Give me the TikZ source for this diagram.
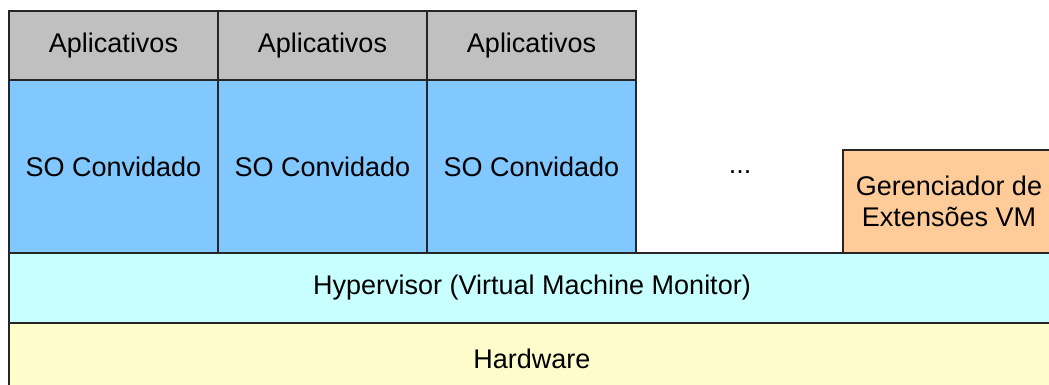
\documentclass[tikz,border=0pt]{standalone}
\usepackage{fontspec}
\setmainfont{Liberation Sans}
\usetikzlibrary{positioning}
\definecolor{appgray}{RGB}{192,192,192}
\definecolor{guestblue}{RGB}{128,200,255}
\definecolor{hypercyan}{RGB}{200,255,255}
\definecolor{hwyellow}{RGB}{255,252,204}
\definecolor{extorange}{RGB}{255,204,153}
\tikzset{
		layer nodes/.style={
			rectangle,
			draw=black!85,
			line width=1.5pt,
			align=center,
			inner sep=0pt,
			outer sep=0pt,
			font=\fontsize{27}{31}\selectfont
		},
		app/.style={layer nodes, fill=appgray, minimum width=209pt, minimum height=69pt},
		guest/.style={layer nodes, fill=guestblue, minimum width=209pt, minimum height=173pt},
		extmgr/.style={layer nodes, fill=extorange, minimum width=212pt, minimum height=103pt},
		hyper/.style={layer nodes, fill=hypercyan, minimum width=1046pt, minimum height=70pt},
		hardware/.style={layer nodes, fill=hwyellow, minimum width=1046pt, minimum height=72pt}
	}
\begin{document}
\begin{tikzpicture}[x=1pt, y=-1pt]
			\useasboundingbox (0,0) rectangle (1049,385);
			\clip (0,0) rectangle (1049,385);
			\node (app1) [app, anchor=north west] at (9,11) {Aplicativos};
			\node (app2) [app, right=0pt of app1] {Aplicativos};
			\node (app3) [app, right=0pt of app2] {Aplicativos};
			\node (so1) [guest, below=0pt of app1] {SO Convidado};
			\node (so2) [guest, below=0pt of app2] {SO Convidado};
			\node (so3) [guest, below=0pt of app3] {SO Convidado};
			\node (hyp) [hyper, anchor=north west] at (so1.south west) {Hypervisor (Virtual Machine Monitor)};
			\node (hw) [hardware, below=0pt of hyp] {Hardware};
			\node (ext) [extmgr, anchor=south west] at (843,253) {Gerenciador de\\Extensões VM};
			\node (dots) [font=\fontsize{27}{31}\selectfont] at (740,172) {...};
			\end{tikzpicture}
\end{document}
